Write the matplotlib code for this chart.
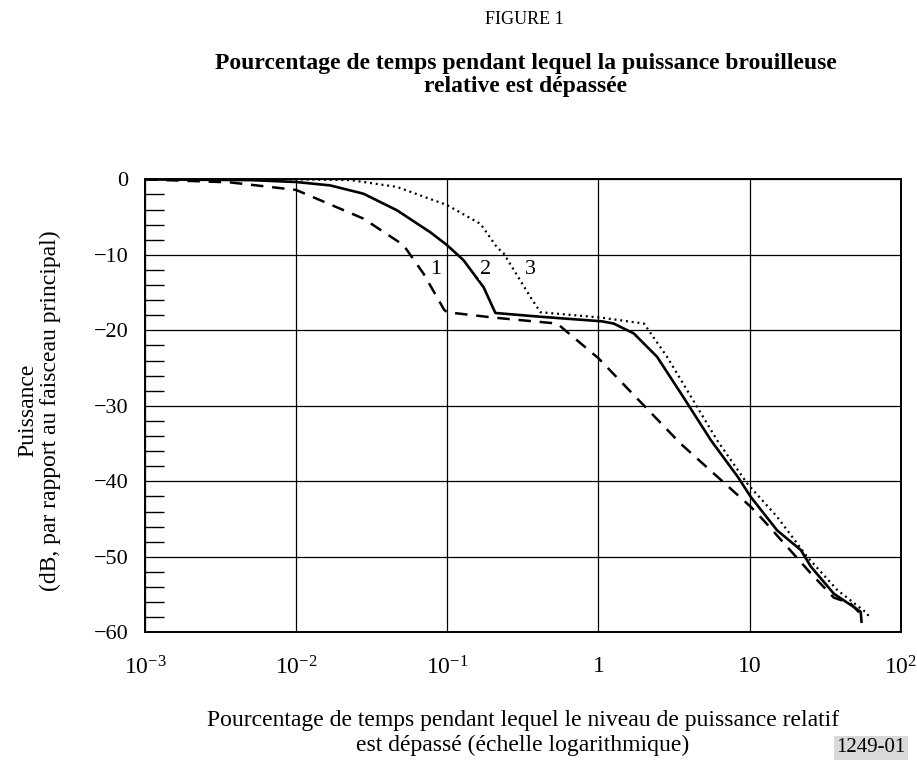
import numpy as np
import matplotlib
matplotlib.use("Agg")
import matplotlib.pyplot as plt
import matplotlib.ticker as mticker

plt.rcParams["font.family"] = ["Liberation Serif", "DejaVu Serif"]
plt.rcParams["mathtext.fontset"] = "custom"
plt.rcParams["mathtext.rm"] = "Liberation Serif"
plt.rcParams["mathtext.it"] = "Liberation Serif:italic"

# ── Donnees ─────────────────────────────────────────────────────────────────
x1 = [1e-3, 0.00366, 0.01, 0.0279, 0.0513, 0.0697, 0.0955, 0.1,
      0.2, 0.533, 1.0, 3.49, 10.2, 12.4, 25.4, 36.0, 46.7, 54.3, 55.0]
y1 = [0.0, -0.4, -1.4, -5.2, -8.7, -12.5, -17.3, -17.6,
      -18.3, -19.1, -23.7, -35.0, -43.4, -45.2, -52.2, -55.4, -56.2, -57.6, -58.4]

x2 = [1e-3, 0.005, 0.01, 0.0168, 0.0279, 0.0465, 0.0771, 0.0995, 0.128,
      0.174, 0.208, 0.413, 1.05, 1.26, 1.71, 2.44, 3.55, 5.56, 8.34,
      10.2, 15.2, 21.8, 25.4, 36.1, 51.0, 54.3, 54.9]
y2 = [0.0, -0.1, -0.35, -0.8, -1.9, -4.1, -7.0, -8.7, -10.7,
      -14.3, -17.7, -18.2, -18.8, -19.1, -20.4, -23.5, -28.5, -34.6, -39.4,
      -42.1, -46.5, -49.1, -51.3, -54.9, -56.9, -57.3, -58.6]

x3 = [1e-3, 0.01, 0.023, 0.0465, 0.0771, 0.0995, 0.166, 0.213, 0.236,
      0.355, 0.413, 1.03, 2.0, 2.84, 6.11, 9.64, 15.2, 24.0, 38.0, 60.0, 62.0]
y3 = [0.0, 0.0, -0.1, -1.0, -2.6, -3.4, -5.9, -9.0, -9.8,
      -15.6, -17.6, -18.3, -19.1, -23.5, -34.6, -40.3, -44.7, -50.0, -54.4,
      -57.5, -58.2]

labels = ["1", "2", "3"]
label_x = [0.0834, 0.179, 0.355]
label_y = [-12.0, -12.0, -12.0]

xticks = [1e-3, 1e-2, 1e-1, 1, 10, 100]
xticklabels = [r"$10^{-3}$", r"$10^{-2}$", r"$10^{-1}$", "1", "10", r"$10^{2}$"]
yticks = [0, -10, -20, -30, -40, -50, -60]

# ── Figure ───────────────────────────────────────────────────────────────────
fig = plt.figure(figsize=(9.17, 7.6), dpi=100, facecolor="white")
ax = fig.add_axes([0.158, 0.168, 0.8244, 0.596])

ax.plot(x1, y1, color="black", lw=1.8, ls=(0, (5, 3.5)), zorder=3)
ax.plot(x2, y2, color="black", lw=1.9, zorder=3)
ax.plot(x3, y3, color="black", lw=1.6, ls=(0, (0.9, 1.7)), zorder=3)

for t, lx, ly in zip(labels, label_x, label_y):
    ax.text(lx, ly, t, fontsize=16, ha="center", va="center",
            bbox=dict(facecolor="white", edgecolor="none", pad=0.5), zorder=4)

ax.set_xscale("log")
ax.set_xlim(1e-3, 1e2)
ax.set_ylim(-60, 0)
ax.set_xticks(xticks)
ax.set_xticklabels(xticklabels)
ax.xaxis.set_minor_locator(mticker.NullLocator())
ax.set_yticks(yticks)
ax.set_yticklabels(["0"] + [f"\u2212{-v}" for v in yticks[1:]])
ax.yaxis.set_minor_locator(mticker.MultipleLocator(2))
ax.tick_params(axis="x", which="major", length=0, labelsize=17, pad=17)
ax.tick_params(axis="y", which="major", length=0, labelsize=16, pad=12)
ax.tick_params(axis="y", which="minor", direction="in", length=14,
               width=1.0, color="black")
ax.grid(True, which="major", color="black", lw=0.9)
for sp in ax.spines.values():
    sp.set_linewidth(1.4)

ax.set_ylabel("Puissance\n(dB, par rapport au faisceau principal)",
              fontsize=17, linespacing=1.12, va="center")
ax.yaxis.set_label_coords(-0.14, 0.49)
ax.set_xlabel("Pourcentage de temps pendant lequel le niveau de puissance relatif\n"
              "est d\u00e9pass\u00e9 (\u00e9chelle logarithmique)",
              fontsize=17, linespacing=1.2, va="center")
ax.xaxis.set_label_coords(0.5, -0.222)

fig.text(0.572, 0.975, "FIGURE 1", ha="center", va="center", fontsize=13)
fig.text(0.573, 0.901,
         "Pourcentage de temps pendant lequel la puissance brouilleuse\n"
         "relative est d\u00e9pass\u00e9e",
         ha="center", va="center", fontsize=17, fontweight="bold",
         linespacing=1.15)
fig.text(0.95, 0.016, "1249-01", ha="center", va="center", fontsize=15,
         bbox=dict(facecolor="#d9d9d9", edgecolor="none", pad=2.0))

fig.savefig("out.png", dpi=100, facecolor="white")
plt.close(fig)
